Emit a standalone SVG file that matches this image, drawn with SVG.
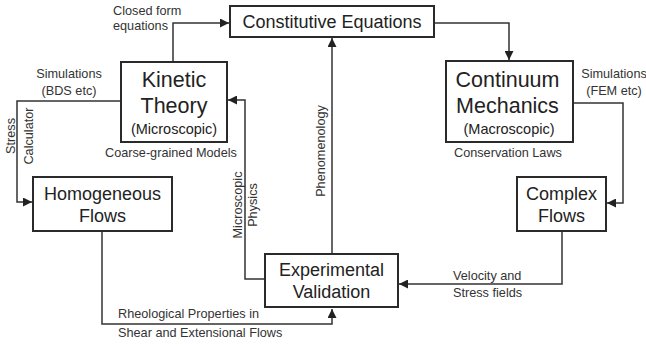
<svg xmlns="http://www.w3.org/2000/svg" width="646" height="347" viewBox="0 0 646 347">
<style>
.box{fill:#fff;stroke:#2a2a2a;stroke-width:2}
.big{font-family:"Liberation Sans",Arial,sans-serif;font-size:21.5px;fill:#222;text-anchor:middle}
.mid{font-family:"Liberation Sans",Arial,sans-serif;font-size:18px;fill:#222;text-anchor:middle}
.sub{font-family:"Liberation Sans",Arial,sans-serif;font-size:14.5px;fill:#222;text-anchor:middle}
.lbl{font-family:"Liberation Sans",Arial,sans-serif;font-size:12.7px;fill:#333}
.c{text-anchor:middle}
.con{fill:none;stroke:#333;stroke-width:1.5}
</style>
<defs>
<marker id="ah" markerUnits="userSpaceOnUse" markerWidth="10" markerHeight="9" refX="9" refY="4.5" orient="auto">
<path d="M0,0 L9,4.5 L0,9 Z" fill="#222"/>
</marker>
</defs>
<rect width="646" height="347" fill="#fff"/>
<g id="connectors">
<path class="con" d="M173,62 V23 H229" marker-end="url(#ah)"/>
<path class="con" d="M434,23 H509 V60" marker-end="url(#ah)"/>
<path class="con" d="M121,101 H17 V202 H32" marker-end="url(#ah)"/>
<path class="con" d="M573,103 H623 V203 H607" marker-end="url(#ah)"/>
<path class="con" d="M102,231 V324 H332 V309" marker-end="url(#ah)"/>
<path class="con" d="M562,231 V284 H399" marker-end="url(#ah)"/>
<path class="con" d="M265,279 H245 V100 H228" marker-end="url(#ah)"/>
<path class="con" d="M332,254 V38" marker-end="url(#ah)"/>
</g>
<g id="labels">
<text class="lbl" x="113" y="15">Closed form</text>
<text class="lbl" x="113" y="30">equations</text>
<text class="lbl c" x="69" y="78">Simulations</text>
<text class="lbl c" x="69" y="95">(BDS etc)</text>
<text class="lbl c" x="614" y="78">Simulations</text>
<text class="lbl c" x="614" y="95">(FEM etc)</text>
<text class="lbl" x="105" y="157">Coarse-grained Models</text>
<text class="lbl" x="454" y="157">Conservation Laws</text>
<text class="lbl" x="453" y="280">Velocity and</text>
<text class="lbl" x="453" y="297">Stress fields</text>
<text class="lbl" x="118" y="318">Rheological Properties in</text>
<text class="lbl" x="118" y="337">Shear and Extensional Flows</text>
<text class="lbl c" transform="translate(14.5,136) rotate(-90)">Stress</text>
<text class="lbl c" transform="translate(32.5,136) rotate(-90)">Calculator</text>
<text class="lbl c" transform="translate(241.5,205) rotate(-90)">Microscopic</text>
<text class="lbl c" transform="translate(256.5,205) rotate(-90)">Physics</text>
<text class="lbl c" transform="translate(324.5,151) rotate(-90)">Phenomenology</text>
</g>
<g id="constitutive">
<rect class="box" x="230" y="6" width="204" height="31"/>
<text class="mid" x="332" y="28">Constitutive Equations</text>
</g>
<g id="kinetic">
<rect class="box" x="121" y="62" width="106" height="80"/>
<text class="big" x="174" y="87">Kinetic</text>
<text class="big" x="174" y="113">Theory</text>
<text class="sub" x="174" y="134">(Microscopic)</text>
</g>
<g id="continuum">
<rect class="box" x="446" y="61" width="127" height="81"/>
<text class="big" x="507.5" y="87">Continuum</text>
<text class="big" x="507.5" y="113">Mechanics</text>
<text class="sub" x="509" y="134">(Macroscopic)</text>
</g>
<g id="homogeneous">
<rect class="box" x="33" y="177" width="139" height="54"/>
<text class="mid" x="102.5" y="200">Homogeneous</text>
<text class="mid" x="102.5" y="222">Flows</text>
</g>
<g id="complex">
<rect class="box" x="517" y="177" width="89" height="54"/>
<text class="mid" x="561.5" y="200">Complex</text>
<text class="mid" x="561.5" y="222">Flows</text>
</g>
<g id="experimental">
<rect class="box" x="265" y="254" width="133" height="53"/>
<text class="mid" x="331.5" y="276">Experimental</text>
<text class="mid" x="331.5" y="298">Validation</text>
</g>
</svg>
